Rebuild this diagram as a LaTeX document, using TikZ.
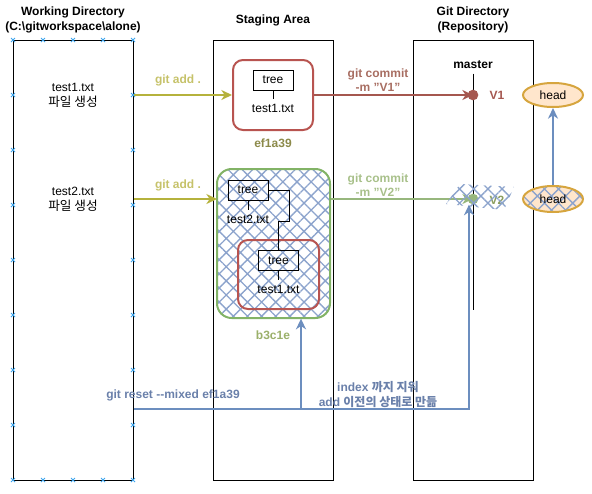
\documentclass[tikz,border=0pt]{standalone}
\usepackage{fontspec}
\setmainfont{Liberation Sans}
\newfontfamily\kr{Noto Sans CJK KR}
\usetikzlibrary{arrows.meta,patterns.meta,shapes.geometric}
\definecolor{addc}{HTML}{B5B23C}
\definecolor{addt}{HTML}{C6C26A}
\definecolor{redc}{HTML}{B85450}
\definecolor{v1c}{HTML}{A5574F}
\definecolor{v1t}{HTML}{A86E62}
\definecolor{efc}{HTML}{8C8A4A}
\definecolor{grc}{HTML}{82B366}
\definecolor{v2c}{HTML}{97B77D}
\definecolor{v2t}{HTML}{A8C08A}
\definecolor{b3c}{HTML}{9BB06A}
\definecolor{blc}{HTML}{6C8EBF}
\definecolor{blt}{HTML}{6A80AA}
\definecolor{hb}{HTML}{8CA3CC}
\definecolor{headf}{HTML}{FFE6CC}
\definecolor{headd}{HTML}{D6A53E}
\definecolor{mkc}{HTML}{3DA5EE}

\begin{document}
\begin{tikzpicture}[x=0.75pt,y=-0.75pt,font=\fontsize{9}{11.25}\selectfont,
  box/.style={draw,line width=0.75pt,inner sep=0pt,minimum width=90pt,minimum height=330pt},
  ttl/.style={font=\fontsize{9}{11.25}\selectfont\bfseries,align=center},
  lbl/.style={font=\fontsize{9}{11}\selectfont\bfseries,align=center},
  rbox/.style={draw=redc,line width=1.5pt,rounded corners=7.5pt,inner sep=0pt},
  tbox/.style={draw,line width=0.75pt,minimum width=30pt,minimum height=15pt,inner sep=0pt},
  hatch/.style={pattern={Hatch[angle=45,distance=7.5pt,line width=1pt]},pattern color=hb},
  arr/.style={line width=2pt,-{Stealth[length=8pt,width=7.5pt,inset=2.5pt]}}]
\useasboundingbox (0,0) rectangle (592,493);

% three areas
\node[box] (wd) at (73,260) {};
\node[box] (sa) at (273,260) {};
\node[box] (gd) at (473,260) {};
\node[ttl] (wdt) at (73,20) {Working Directory\\(C:\textbackslash gitworkspace\textbackslash alone)};
\node[ttl] (sat) at (273,20) {Staging Area};
\node[ttl] (gdt) at (473,20) {Git Directory\\(Repository)};

\foreach \x in {13,43,73,103,133} {
  \draw[mkc,line width=0.6pt] (\x-2,38) -- (\x+2,42) (\x-2,42) -- (\x+2,38);
  \draw[mkc,line width=0.6pt] (\x-2,478) -- (\x+2,482) (\x-2,482) -- (\x+2,478);
}
\foreach \y in {95,150,...,425} {
  \draw[mkc,line width=0.6pt] (11,\y-2) -- (15,\y+2) (11,\y+2) -- (15,\y-2);
  \draw[mkc,line width=0.6pt] (131,\y-2) -- (135,\y+2) (131,\y+2) -- (135,\y-2);
}

\node[align=center] (w1) at (73,95) {test1.txt\\{\kr\fontsize{9.5}{11.25}\selectfont 파일 생성}};
\node[align=center] (w2) at (73,199) {test2.txt\\{\kr\fontsize{9.5}{11.25}\selectfont 파일 생성}};

% first commit
\node[rbox,minimum width=60pt,minimum height=52.5pt] (c1) at (273,95) {};
\node[tbox] (t1) at (273,80) {tree};
\node (f1) at (273,108) {test1.txt};
\draw (t1) -- (f1);
\node[lbl,text=efc] (e1) at (273,143) {ef1a39};

% second commit
\node[draw=grc,line width=1.5pt,rounded corners=11pt,hatch,minimum width=84.75pt,minimum height=111.75pt] (c2) at (273.5,243.5) {};
\node[rbox,minimum width=60.75pt,minimum height=51.75pt] (c3) at (278.5,274.5) {};
\node[tbox] (t2) at (248,190) {tree};
\node (f2) at (248,219) {test2.txt};
\node[tbox] (t3) at (278.5,260.5) {tree};
\node (f3) at (278.5,289) {test1.txt};
\draw (t2) -- (f2);
\draw (t3) -- (f3);
\draw (t2.east) -| (289,221) -| (t3.north);
\node[lbl,text=b3c] (e2) at (273,335) {b3c1e};

% git add
\coordinate (a2) at (217,199);
\draw[arr,addc] (wd.east |- c1.west) -- (c1.west);
\draw[arr,addc] (wd.east |- a2) -- (a2);
\node[lbl,text=addt] (l1) at (178,80) {git add .};
\node[lbl,text=addt] (l2) at (178,185) {git add .};

% repository
\node[lbl] (ms) at (473,65) {master};
\coordinate (me) at (473,310);
\draw[line width=0.75pt] (ms.south) -- (me);
\node[circle,fill=v1c,inner sep=0pt,minimum size=8pt] (v1) at (473,95) {};
\node[circle,fill=v2c,inner sep=0pt,minimum size=8pt] (v2) at (473,199) {};
\draw[arr,v1c] (c1.east) -- (v1.center);
\draw[arr,v2c] (c2.east |- v2) -- (v2.center);
\node[lbl,text=v1t] (l3) at (378,80) {git commit\\-m "V1"};
\node[lbl,text=v2t] (l4) at (378,185) {git commit\\-m "V2"};
\node[lbl,text=v1c] (n1) at (497,95) {V1};
\node[lbl,text=b3c!90!black] (n2) at (497,200) {V2};
\path[hatch] (446,204) -- (460,184) -- (514,187) -- (504,210) -- cycle;

% head
\node[ellipse,draw=headd,line width=1.5pt,fill=headf,minimum width=45pt,minimum height=18pt,inner sep=0pt] (h1) at (553,95) {head};
\node[ellipse,draw=headd,line width=1.5pt,preaction={fill=headf},hatch,minimum width=45pt,minimum height=19.5pt,inner sep=0pt] (h2) at (553,199) {head};
\draw[arr,blc] (h2) -- (h1);

% reset
\coordinate (rs) at (wd.east |- 0,409);
\coordinate (rb) at (301,409);
\coordinate (rc) at (469,409);
\draw[arr,blc] (rs) -- (rc) -- (rc |- v2.south);
\draw[arr,blc] (rb) -- (rb |- c2.south);
\node[lbl,text=blt] (l5) at (173,395) {git reset {-}{-}mixed ef1a39};
\node[lbl,text=blt] (l6) at (378,394.5) {index {\kr 까지 지워}\\add {\kr 이전의 상태로 만듦}};
\end{tikzpicture}
\end{document}
